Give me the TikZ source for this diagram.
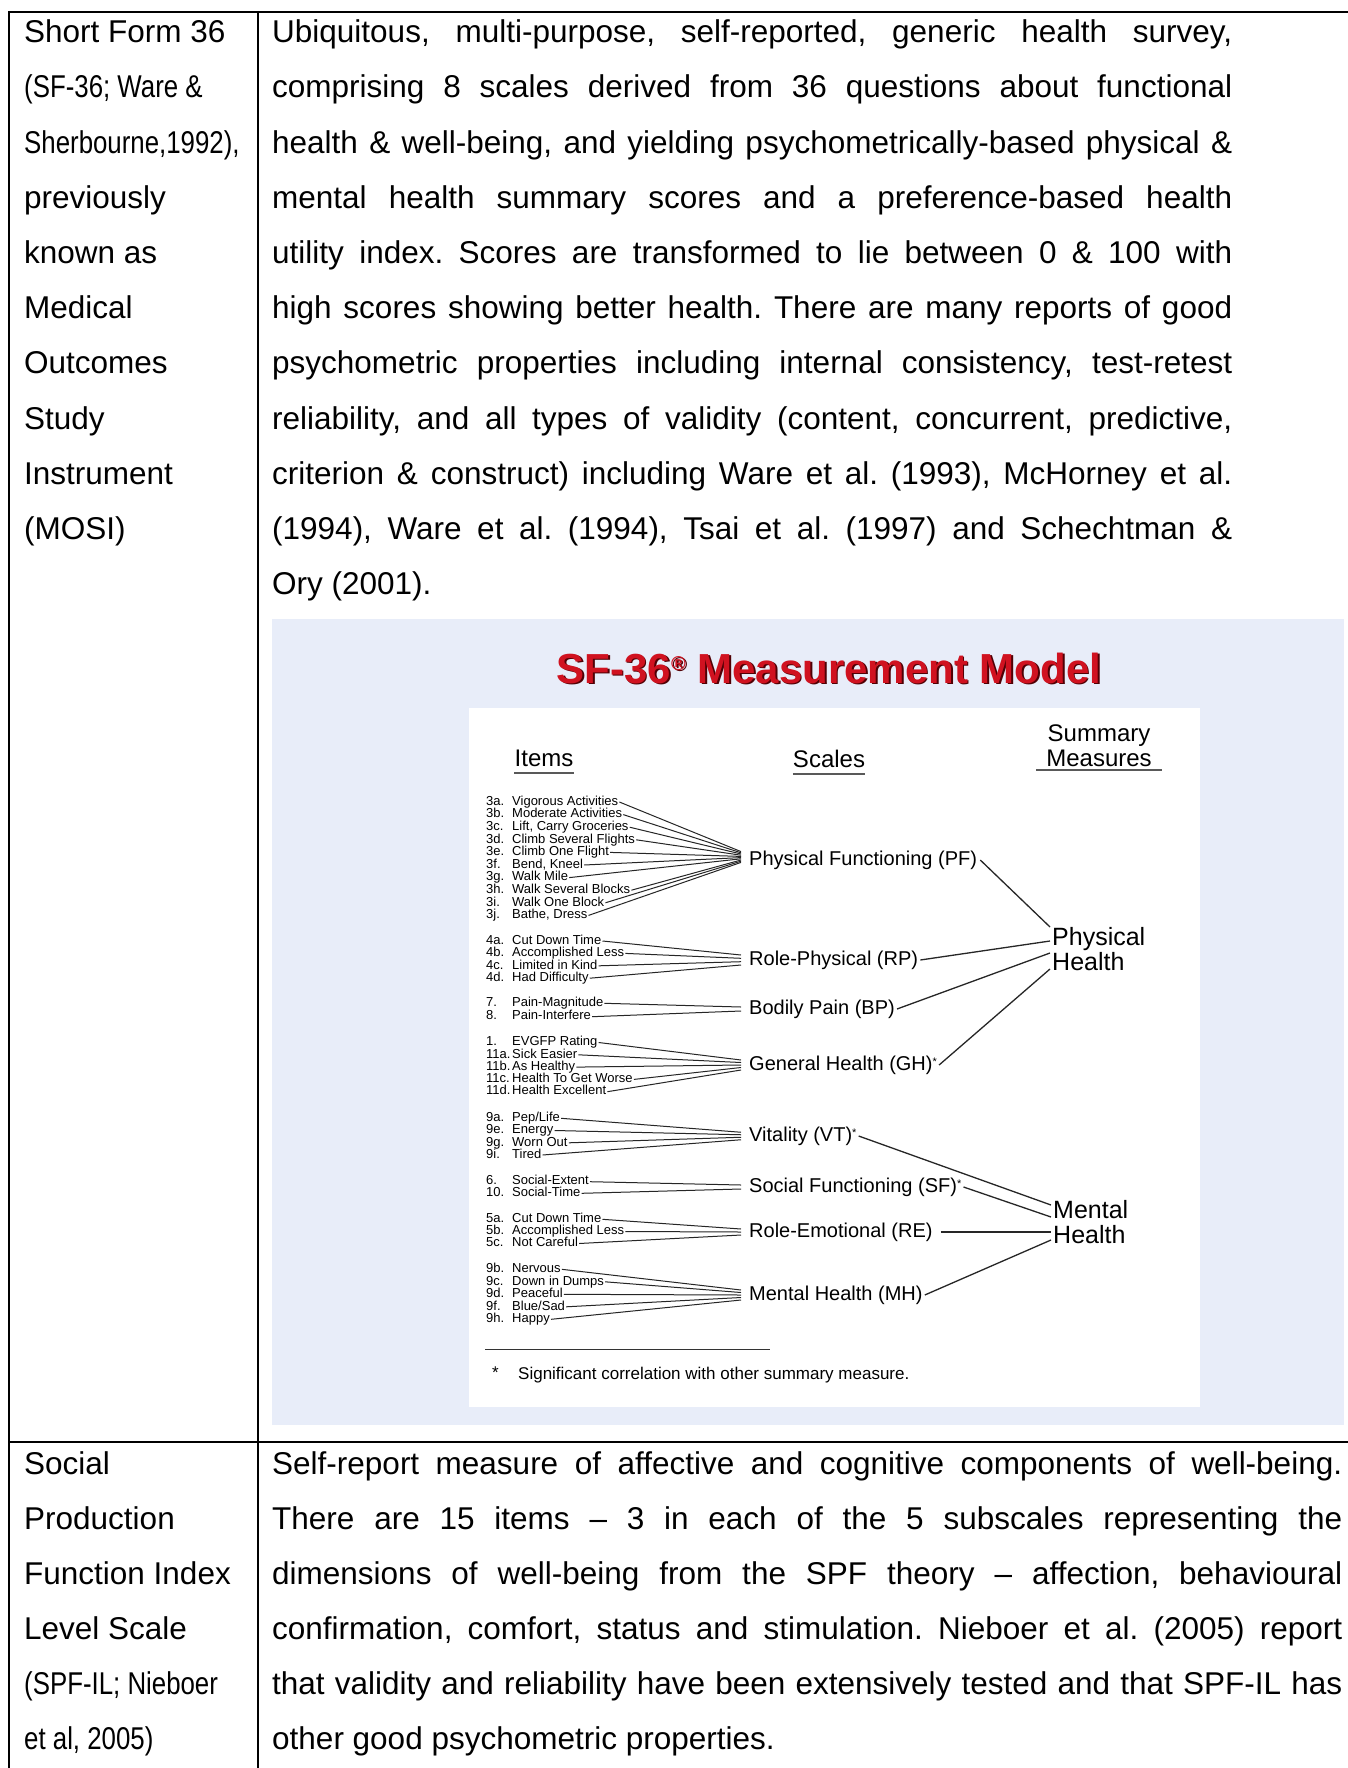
\documentclass[tikz,border=0pt]{standalone}
\usepackage{fontspec}
\setmainfont{Liberation Sans}
\usepackage{graphicx}
\usepackage{xcolor}
\definecolor{lav}{RGB}{232,237,249}
\definecolor{titlered}{RGB}{208,18,32}
\definecolor{shadowred}{RGB}{80,0,5}
\frenchspacing

% #1 name, #2 y, #3 number, #4 text, #5 scale node, #6 yshift at hub
\newcommand\sfitem[6]{%
  \node[inum] (#1n) at (486,#2) {#3};
  \node[itxt] (#1) at (512,#2) {#4};
  \draw[ilink] ([xshift=1pt]#1.east) -- ([xshift=-8pt,yshift=#6pt]#5.west);}
% #1 name, #2 x, #3 y(baseline), #4 width, #5 text
\newcommand\jline[5]{\node[para] (#1) at (#2,#3) {\makebox[#4pt][s]{#5}};}
\newcommand\nline[4]{\node[para] (#1) at (#2,#3) {#4};}
\newcommand\narrow[4]{\node[para] (#1) at (#2,#3) {\scalebox{0.82}[1]{#4}};}

\begin{document}
\begin{tikzpicture}[x=1pt,y=-1pt,
  para/.style={anchor=base west,inner sep=0pt,font=\fontsize{31.5}{36}\selectfont\frenchspacing},
  rule/.style={line width=2pt,black},
  itxt/.style={anchor=west,inner sep=0pt,font=\fontsize{13}{14}\selectfont,text height=9pt,text depth=2.5pt},
  inum/.style={itxt},
  scl/.style={anchor=west,inner sep=0pt,font=\fontsize{20}{22}\selectfont,text height=14.5pt,text depth=4pt},
  summ/.style={anchor=west,inner sep=0pt,align=left,font=\fontsize{25}{25}\selectfont},
  hdr/.style={inner sep=0pt,font=\fontsize{24}{25}\selectfont},
  ilink/.style={draw=black!85,line width=1pt},
  slink/.style={draw=black!85,line width=1.3pt},
  uline/.style={draw=black!65,line width=2.5pt},
  ttl/.style={anchor=base,inner sep=0pt,font=\bfseries\fontsize{42}{44}\selectfont}
]
\useasboundingbox (0,0) rectangle (1348,1768);
\fill[white] (0,0) rectangle (1348,1768);

% ---------- table rules ----------
\draw[rule] (8,12) -- (1348,12);
\draw[rule] (9,11) -- (9,1768);
\draw[rule] (258,11) -- (258,1768);
\draw[rule] (8,1442) -- (1348,1442);

% ---------- row 1, left ----------
\nline{la0}{24}{42.7}{Short Form 36}
\narrow{la1}{24}{97.9}{(SF-36; Ware \&}
\narrow{la2}{24}{153.1}{Sherbourne,1992),}
\nline{la3}{24}{208.3}{previously}
\nline{la4}{24}{263.5}{known as}
\nline{la5}{24}{318.7}{Medical}
\nline{la6}{24}{373.9}{Outcomes}
\nline{la7}{24}{429.1}{Study}
\nline{la8}{24}{484.3}{Instrument}
\nline{la9}{24}{539.5}{(MOSI)}

% ---------- row 1, right ----------
\jline{ra0}{272}{42.7}{960}{Ubiquitous, multi-purpose, self-reported, generic health survey,}
\jline{ra1}{272}{97.9}{960}{comprising 8 scales derived from 36 questions about functional}
\jline{ra2}{272}{153.1}{960}{health \& well-being, and yielding psychometrically-based physical \&}
\jline{ra3}{272}{208.3}{960}{mental health summary scores and a preference-based health}
\jline{ra4}{272}{263.5}{960}{utility index. Scores are transformed to lie between 0 \& 100 with}
\jline{ra5}{272}{318.7}{960}{high scores showing better health. There are many reports of good}
\jline{ra6}{272}{373.9}{960}{psychometric properties including internal consistency, test-retest}
\jline{ra7}{272}{429.1}{960}{reliability, and all types of validity (content, concurrent, predictive,}
\jline{ra8}{272}{484.3}{960}{criterion \& construct) including Ware et al. (1993), McHorney et al.}
\jline{ra9}{272}{539.5}{960}{(1994), Ware et al. (1994), Tsai et al. (1997) and Schechtman \&}
\nline{ra10}{272}{594.7}{Ory (2001).}

% ---------- diagram ----------
\fill[lav] (272,619) rectangle (1344,1425);
\fill[white] (469,708) rectangle (1200,1407);

\node[ttl,text=shadowred] (tshadow) at (830.5,684.5) {SF-36\raisebox{13pt}{\fontsize{20}{20}\selectfont ®} Measurement Model};
\node[ttl,text=titlered] (title) at (829,683) {SF-36\raisebox{13pt}{\fontsize{20}{20}\selectfont ®} Measurement Model};

\node[hdr,anchor=base] (hitems) at (544,766) {Items};
\node[hdr,anchor=base] (hscales) at (829,767) {Scales};
\node[hdr,align=center] (hsumm) at (1099,746) {Summary\\Measures};
\draw[uline] ([yshift=-7pt]hitems.base west) -- ([yshift=-7pt]hitems.base east);
\draw[uline] ([yshift=-7pt]hscales.base west) -- ([yshift=-7pt]hscales.base east);
\draw[uline] ([xshift=-63pt,yshift=-3pt]hsumm.south) -- ([xshift=63pt,yshift=-3pt]hsumm.south);

% scales
\node[scl] (pf) at (749,860) {Physical Functioning (PF)};
\node[scl] (rp) at (749,960) {Role-Physical (RP)};
\node[scl] (bp) at (749,1009) {Bodily Pain (BP)};
\node[scl] (gh) at (749,1065) {General Health (GH)\raisebox{5pt}{\fontsize{11}{11}\selectfont *}};
\node[scl] (vt) at (749,1136) {Vitality (VT)\raisebox{5pt}{\fontsize{11}{11}\selectfont *}};
\node[scl] (sf) at (749,1187) {Social Functioning (SF)\raisebox{5pt}{\fontsize{11}{11}\selectfont *}};
\node[scl] (re) at (749,1232) {Role-Emotional (RE)};
\node[scl] (mhs) at (749,1295) {Mental Health (MH)};

% summary measures
\node[summ] (phealth) at (1052,949.4) {Physical\\Health};
\node[summ] (mhealth) at (1053,1222.4) {Mental\\Health};

\draw[slink] ([xshift=3pt]pf.east) -- ([xshift=-2pt,yshift=22.4pt]phealth.west);
\draw[slink] ([xshift=2pt]rp.east) -- ([xshift=-2pt,yshift=8.4pt]phealth.west);
\draw[slink] ([xshift=2pt]bp.east) -- ([xshift=-2pt,yshift=-3.6pt]phealth.west);
\draw[slink] ([xshift=2pt]gh.east) -- ([xshift=-2pt,yshift=-19.6pt]phealth.west);
\draw[slink] ([xshift=2pt]vt.east) -- ([xshift=-2pt,yshift=17.4pt]mhealth.west);
\draw[slink] ([xshift=2pt]sf.east) -- ([xshift=-2pt,yshift=5.4pt]mhealth.west);
\draw[slink] ([xshift=8pt]re.east) -- ([xshift=-2pt,yshift=-9.6pt]mhealth.west);
\draw[slink] ([xshift=2pt]mhs.east) -- ([xshift=-2pt,yshift=-17.6pt]mhealth.west);

% items
\sfitem{pfa}{802}{3a.}{Vigorous Activities}{pf}{8.4}
\sfitem{pfb}{814.6}{3b.}{Moderate Activities}{pf}{7.2}
\sfitem{pfc}{827.2}{3c.}{Lift, Carry Groceries}{pf}{6}
\sfitem{pfd}{839.8}{3d.}{Climb Several Flights}{pf}{4.8}
\sfitem{pfe}{852.4}{3e.}{Climb One Flight}{pf}{3.6}
\sfitem{pff}{865}{3f.}{Bend, Kneel}{pf}{2.4}
\sfitem{pfg}{877.6}{3g.}{Walk Mile}{pf}{1.2}
\sfitem{pfh}{890.2}{3h.}{Walk Several Blocks}{pf}{0}
\sfitem{pfi}{902.8}{3i.}{Walk One Block}{pf}{-1.2}
\sfitem{pfj}{915.4}{3j.}{Bathe, Dress}{pf}{-2.4}

\sfitem{rpa}{941}{4a.}{Cut Down Time}{rp}{5}
\sfitem{rpb}{953.4}{4b.}{Accomplished Less}{rp}{1.7}
\sfitem{rpc}{965.8}{4c.}{Limited in Kind}{rp}{-1.7}
\sfitem{rpd}{978.2}{4d.}{Had Difficulty}{rp}{-5}

\sfitem{bpa}{1003.3}{7.}{Pain-Magnitude}{bp}{2}
\sfitem{bpb}{1016.7}{8.}{Pain-Interfere}{bp}{-2}

\sfitem{gha}{1042.5}{1.}{EVGFP Rating}{gh}{5}
\sfitem{ghb}{1054.8}{11a.}{Sick Easier}{gh}{2.5}
\sfitem{ghc}{1067.1}{11b.}{As Healthy}{gh}{0}
\sfitem{ghd}{1079.4}{11c.}{Health To Get Worse}{gh}{-2.5}
\sfitem{ghe}{1091.7}{11d.}{Health Excellent}{gh}{-5}

\sfitem{vta}{1118.3}{9a.}{Pep/Life}{vt}{3.75}
\sfitem{vtb}{1130.5}{9e.}{Energy}{vt}{1.25}
\sfitem{vtc}{1142.8}{9g.}{Worn Out}{vt}{-1.25}
\sfitem{vtd}{1155}{9i.}{Tired}{vt}{-3.75}

\sfitem{sfa}{1181.7}{6.}{Social-Extent}{sf}{2}
\sfitem{sfb}{1193.3}{10.}{Social-Time}{sf}{-2}

\sfitem{rea}{1219.3}{5a.}{Cut Down Time}{re}{3}
\sfitem{reb}{1231.5}{5b.}{Accomplished Less}{re}{0}
\sfitem{rec}{1243.5}{5c.}{Not Careful}{re}{-3}

\sfitem{mha}{1269.3}{9b.}{Nervous}{mhs}{5}
\sfitem{mhb}{1281.8}{9c.}{Down in Dumps}{mhs}{2.5}
\sfitem{mhc}{1294.3}{9d.}{Peaceful}{mhs}{0}
\sfitem{mhd}{1306.8}{9f.}{Blue/Sad}{mhs}{-2.5}
\sfitem{mhe}{1319.3}{9h.}{Happy}{mhs}{-5}

% footnote
\draw[draw=black!80,line width=1pt] (485,1349) -- (770,1349);
\node[anchor=west,inner sep=0pt,font=\fontsize{17}{18}\selectfont] (fstar) at (492,1373) {*};
\node[anchor=west,inner sep=0pt,font=\fontsize{17}{18}\selectfont] (fnote) at (518,1375) {Significant correlation with other summary measure.};

% ---------- row 2, left ----------
\nline{lb0}{24}{1474}{Social}
\nline{lb1}{24}{1529}{Production}
\nline{lb2}{24}{1584}{Function Index}
\nline{lb3}{24}{1639}{Level Scale}
\narrow{lb4}{24}{1694}{(SPF-IL; Nieboer}
\narrow{lb5}{24}{1749}{et al, 2005)}

% ---------- row 2, right ----------
\jline{rb0}{272}{1474}{1070}{Self-report measure of affective and cognitive components of well-being.}
\jline{rb1}{272}{1529}{1070}{There are 15 items – 3 in each of the 5 subscales representing the}
\jline{rb2}{272}{1584}{1070}{dimensions of well-being from the SPF theory – affection, behavioural}
\jline{rb3}{272}{1639}{1070}{confirmation, comfort, status and stimulation. Nieboer et al. (2005) report}
\jline{rb4}{272}{1694}{1070}{that validity and reliability have been extensively tested and that SPF-IL has}
\nline{rb5}{272}{1749}{other good psychometric properties.}
\end{tikzpicture}
\end{document}
